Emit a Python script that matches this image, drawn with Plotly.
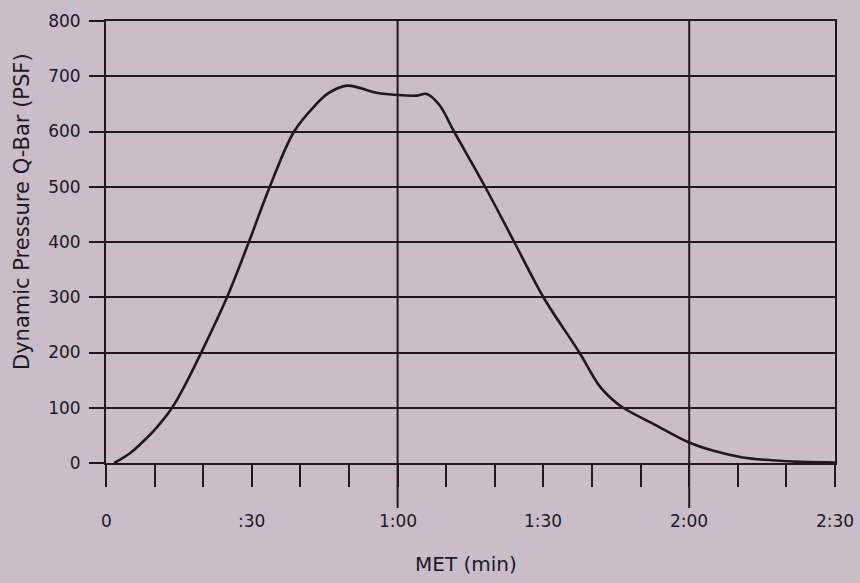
import plotly.graph_objects as go

BG = "#C9BDC9"
INK = "#1c1a1e"
FONT = "DejaVu Sans"
W, H = 860, 583

# MET (seconds) vs dynamic pressure (psf)
met_s = [1.7, 5, 8, 10.5, 13.6, 16.5, 19.6, 24.9, 29.4, 33.7, 38.7, 43, 45.7, 49.6, 55.7, 60,
         64, 66, 68.6, 71.6, 78, 84, 90, 97.4, 101.4, 104.2, 106.4, 112.8, 120, 125, 131,
         137, 143, 150]
qbar = [0, 18, 42, 65, 100, 145, 200, 300, 400, 500, 600, 647, 669, 683, 670, 666,
        665, 668, 648, 600, 500, 400, 300, 200, 141, 115, 100, 70, 37, 22, 10,
        5, 2, 1]

x_ticks = list(range(0, 151, 10))
x_labels = {0: "0", 30: ":30", 60: "1:00", 90: "1:30", 120: "2:00", 150: "2:30"}
y_ticks = list(range(0, 801, 100))
major_x = [60, 120]

L, R, T, B = 106, 25, 21, 120
ph = H - T - B

fig = go.Figure()
fig.add_trace(go.Scatter(x=met_s, y=qbar, mode="lines",
                         line=dict(color=INK, width=2.6, shape="spline", smoothing=1.0),
                         hoverinfo="skip", showlegend=False))

fig.update_layout(
    width=W, height=H, paper_bgcolor=BG, plot_bgcolor=BG,
    margin=dict(l=L, r=R, t=T, b=B), showlegend=False,
    xaxis=dict(range=[0, 150], tickvals=x_ticks, ticktext=[""] * len(x_ticks),
               ticks="outside", ticklen=22, tickwidth=2, tickcolor=INK,
               showgrid=False, zeroline=False, showline=True, linewidth=2,
               linecolor=INK, mirror=True, fixedrange=True),
    yaxis=dict(range=[0, 800], tickvals=y_ticks, ticks="outside", ticklen=15,
               tickwidth=2, tickcolor=INK, showgrid=True, gridcolor=INK, gridwidth=2,
               zeroline=False, showline=True, linewidth=2, linecolor=INK, mirror=True,
               ticklabelstandoff=5, tickfont=dict(family=FONT, size=17, color=INK),
               fixedrange=True),
)

# 1:00 and 2:00 grid lines run down past the baseline
for xv in major_x:
    fig.add_shape(type="line", xref="x", yref="paper", x0=xv, x1=xv, y0=-45 / ph, y1=1,
                  line=dict(color=INK, width=2))

# x tick labels
for xv, lab in x_labels.items():
    fig.add_annotation(x=xv, y=-58 / ph, xref="x", yref="paper", text=lab, showarrow=False,
                       yanchor="middle", font=dict(family=FONT, size=17, color=INK))

fig.add_annotation(x=(466 - L) / (W - L - R), y=(H - B - 564) / ph, xref="paper", yref="paper",
                   text="MET (min)", showarrow=False, yanchor="middle",
                   font=dict(family=FONT, size=20, color=INK))
fig.add_annotation(x=(22 - L) / (W - L - R), y=(H - B - 212) / ph, xref="paper", yref="paper",
                   text="Dynamic Pressure Q-Bar (PSF)", textangle=-90, showarrow=False,
                   xanchor="center", yanchor="middle",
                   font=dict(family=FONT, size=21, color=INK))

fig.write_html("out.html", config={"displayModeBar": False},
               post_script="document.body.style.margin='0px';")
